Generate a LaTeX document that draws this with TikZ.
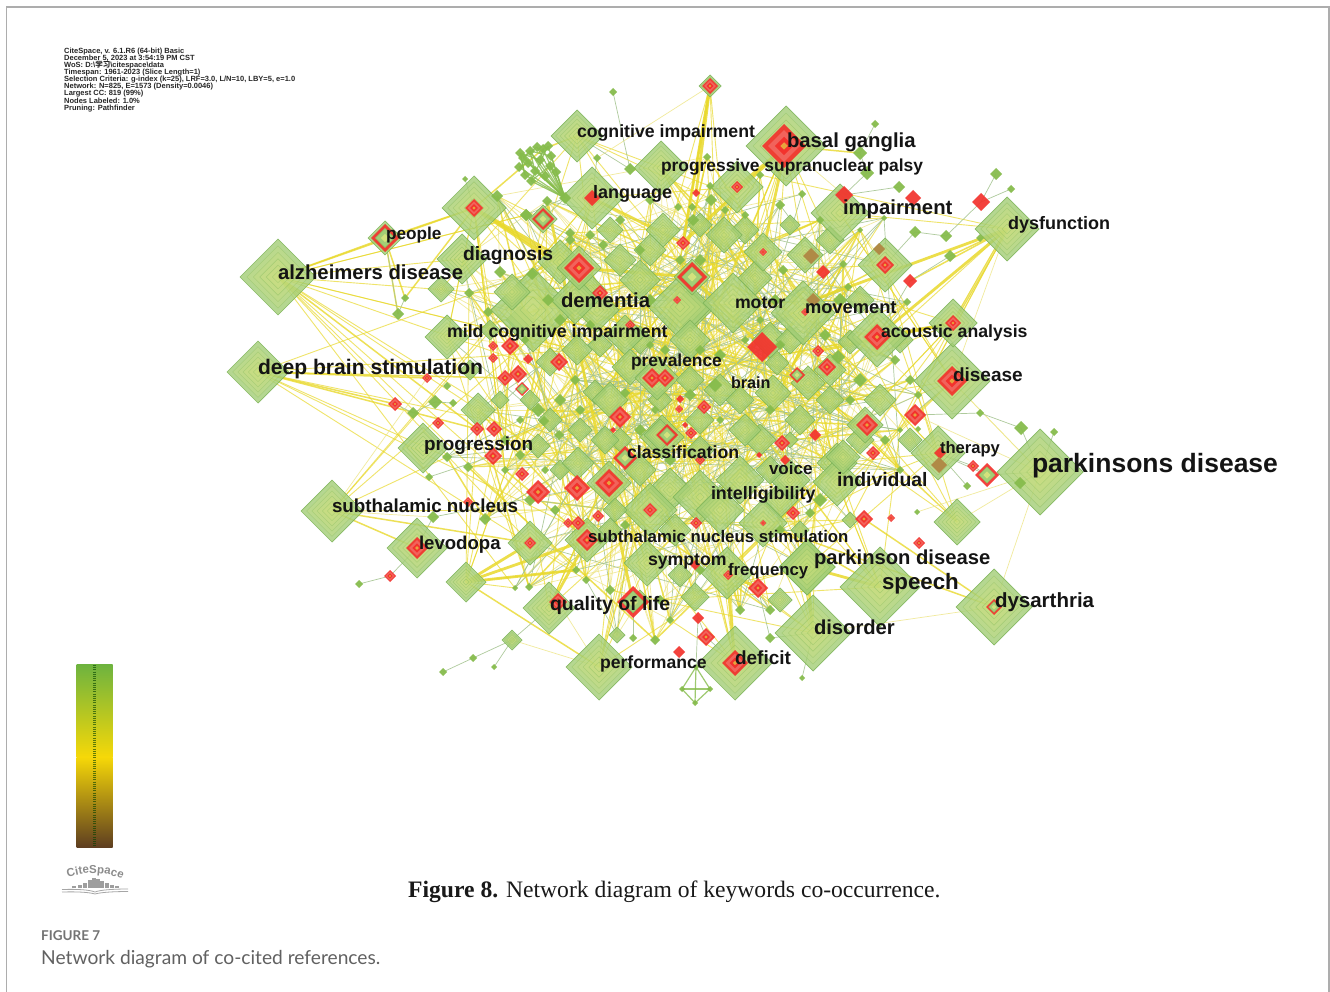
\documentclass[tikz,border=0pt]{standalone}
\usepackage{fontspec}
\usetikzlibrary{shapes.geometric,decorations.text}
\setmainfont{Liberation Sans}
\newfontfamily\serifc{Liberation Serif}
\newfontfamily\latof{Lato}
\newfontfamily\cjkf{Noto Sans CJK SC}
\setlength{\lineskiplimit}{-10pt}
\definecolor{gedge}{HTML}{7FB55A}
\definecolor{gfill}{HTML}{A3CE76}
\definecolor{gring}{HTML}{D3E27C}
\definecolor{gline}{HTML}{8CBF62}
\definecolor{gsmall}{HTML}{86BC4C}
\definecolor{rmain}{HTML}{F3322D}
\definecolor{rsoft}{HTML}{F2655E}
\definecolor{rcore}{HTML}{E8A23C}
\definecolor{brownn}{HTML}{B08A46}
\definecolor{yel}{HTML}{E9D92C}
\definecolor{ypale}{HTML}{EFE78C}
\definecolor{gthin}{HTML}{A6C592}
\definecolor{barg}{HTML}{6DB33F}
\definecolor{bary}{HTML}{F6D808}
\definecolor{barb}{HTML}{5E3E20}
\pgfdeclarelayer{edges}
\pgfdeclarelayer{labels}
\pgfsetlayers{edges,main,labels}
\tikzset{
 dia/.style={diamond,aspect=1,inner sep=0pt,outer sep=0pt,draw=gedge,line width=.7pt,fill=gfill,fill opacity=.8,draw opacity=.9},
 smalld/.style={diamond,aspect=1,inner sep=0pt,outer sep=0pt,draw=none,fill=gsmall,fill opacity=.94},
 redd/.style={diamond,aspect=1,inner sep=0pt,outer sep=0pt,draw=none,fill=rmain,fill opacity=.92},
 brownd/.style={diamond,aspect=1,inner sep=0pt,outer sep=0pt,draw=none,fill=brownn},
 ringp/.style={draw=gline,draw opacity=.55,line width=.4pt,fill=gring,fill opacity=.2},
 lbl/.style={inner sep=0pt,outer sep=0pt,anchor=base west,text=black!92,font=\bfseries},
 fat y/.style={draw=yel,line width=2.8pt,opacity=.85},
 thick y/.style={draw=yel,line width=1.5pt,opacity=.8},
 mid y/.style={draw=yel,line width=.9pt,opacity=.7},
 pale y/.style={draw=ypale,line width=.7pt,opacity=.85},
 thin g/.style={draw=gthin,line width=.7pt,opacity=.9},
 thick g/.style={draw=gsmall,line width=1.2pt,opacity=.8},
}
\newcommand\dring[4]{\path[#4] (#1+#3,#2)--(#1,#2-#3)--(#1-#3,#2)--(#1,#2+#3)--cycle;}
\newcommand\gn[4]{%
 \ifdim #4pt<8pt
  \node[smalld,minimum size=#4*2pt] (#1) at (#2,#3) {};
 \else
  \node[dia,minimum size=#4*2pt] (#1) at (#2,#3) {};
  \foreach \f in {.82,.65,.48,.31,.15}{\dring{#2}{#3}{#4*\f}{ringp}}
 \fi}
\newcommand\rn[4]{\node[redd,minimum size=#4*2pt] (#1) at (#2,#3) {};}
\newcommand\rr[4]{\node[redd,minimum size=#4*2pt] (#1) at (#2,#3) {};
 \dring{#2}{#3}{#4*.72}{fill=rsoft,fill opacity=.95}
 \dring{#2}{#3}{#4*.42}{fill=rmain}
 \dring{#2}{#3}{#4*.17}{fill=rcore}}
\newcommand\rg[4]{\node[redd,minimum size=#4*2pt] (#1) at (#2,#3) {};
 \dring{#2}{#3}{#4*.68}{fill=gfill,draw=gline,line width=.4pt}
 \dring{#2}{#3}{#4*.3}{fill=gring}}
\newcommand\bn[4]{\node[brownd,minimum size=#4*2pt] (#1) at (#2,#3) {};}
\newcommand\lab[5]{\node[lbl,font=\bfseries\fontsize{#4}{#4}\selectfont] (#1) at (#2,#3+#4*.33+1) {#5};}
\newcount\nc
\newcommand\corelistL{533/310/42,512/292/18,441/289/13,447/337/22,462/259/25,577/350/15,478/410/17,538/446/12,578/463/16,609/483/22,530/543/22,587/540/22,550/362/14,597/310/22,575/300/24,560/262/22,526/215/6,547/201/5,570/233/5,500/272/6,532/274/6,469/293/5,488/312/5,497/196/6,468/467/5,447/457/5,485/519/6,515/588/3,529/587/4,576/570/4,586/580/4,538/410/7,544/421/5,559/435/5,525/340/4,560/320/6,590/325/5,580/410/5,560/400/6,520/420/4,505/440/5,520/455/5,545/470/4,555/510/5,530/500/6,505/470/4,600/540/4,570/240/5,590/235/5,548/300/6,575/380/5,595/392/12}
\newcommand\corelistC{680/307/32,733/303/30,755/278/17,724/235/18,663/230/17,692/277/18,625/335/20,640/280/20,620/260/16,630/367/18,610/400/18,657/378/22,662/437/22,690/340/20,690/380/14,740/400/14,745/430/16,650/510/27,700/497/27,720/510/24,647/563/23,727/573/26,695/597/14,640/470/16,700/450/14,615/510/12,617/635/8,660/435/16,737/187/26,661/168/27,625/393/5,650/345/4,665/350/5,700/350/5,720/355/6,745/340/4,760/320/4,690/395/6,720/420/4,655/410/4,640/430/6,625/525/5,610/590/5,660/600/5,670/620/4,655/640/5,700/570/5,740/610/5,711/200/6,710/186/4,693/220/6,678/207/4,692/207/4,707/157/4,650/200/5,620/220/5,640/250/5,680/260/5,725/210/4,745/215/4,603/245/5,670/460/6,715/385/7,650/300/6,700/260/6,605/440/14,675/530/16}
\newcommand\corelistR{803/313/32,763/252/19,805/255/18,850/342/12,777/363/12,773/393/18,808/383/17,800/420/15,837/463/20,837/482/24,843/457/17,763/523/24,807/567/28,790/480/20,830/400/14,880/400/16,865/425/18,770/470/14,885/265/27,877/337/30,840/213/29,843/264/4,848/287/4,783/270/5,907/302/4,802/194/4,884/218/3,838/357/7,780/345/5,770/410/5,780/530/5,810/513/5,900/470/4,910/380/5,895/360/5,850/400/5,900/430/3,918/395/4,780/205/5,820/220/4,860/230/3,760/175/4,775/300/6,840/300/7,825/335/6,860/380/7,885/440/5,800/530/9,850/520/8,770/610/5,820/500/7,790/440/8}
\newcommand\corelistX{650/250/16,610/230/13,700/225/12,745/230/14,790/225/10,830/240/14,690/310/22,770/340/18,830/370/16,790/340/14,600/345/12,640/340/14,720/390/16,760/440/16,700/420/14,620/440/12,580/430/12,550/420/12,530/400/10,500/400/9,520/320/14,490/330/10,470/370/10,560/470/10,610/530/12,670/490/22,740/480/24,780/500/18,860/440/14,900/340/13,860/300/14,910/440/12,680/575/12,640/600/10,780/600/12,660/400/12,590/290/16}
\begin{document}
\begin{tikzpicture}[x=1pt,y=-1pt]
\useasboundingbox (0,0) rectangle (1330,992);
\begin{pgfonlayer}{edges}
\fill[white] (0,0) rectangle (1330,992);
\end{pgfonlayer}
\draw[black!32,line width=1.3pt] (6.5,992) -- (6.5,7) -- (1329,7) -- (1329,992);
% ---- big named hubs
\gn{alz}{278}{277}{38}
\gn{dbs}{258}{372}{31}
\gn{sub}{332}{511}{31}
\gn{park}{1040}{472}{43}
\gn{dys}{994}{607}{38}
\gn{dfn}{1007}{229}{32}
\gn{bas}{786}{146}{40}
\gn{cog}{577}{136}{26}
\gn{diag}{474}{208}{32}
\gn{lang}{592}{198}{31}
\gn{dis}{952}{381}{38}
\gn{aco}{953}{323}{24}
\gn{ther}{938}{453}{27}
\gn{lone}{957}{522}{23}
\gn{spe}{880}{587}{40}
\gn{dor}{813}{633}{38}
\gn{pkd}{807}{567}{28}
\gn{def}{735}{663}{37}
\gn{perf}{599}{667}{33}
\gn{qol}{549}{608}{26}
\gn{lev}{417}{548}{30}
\gn{pro}{423}{448}{25}
\gn{low}{466}{582}{20}
\gn{lsm}{512}{640}{10}
% ---- core nodes
\foreach \x/\y/\r in \corelistX {\global\advance\nc by 1 \gn{x\the\nc}{\x}{\y}{\r}}
\global\nc=0
\foreach \x/\y/\r in \corelistL {\global\advance\nc by 1 \gn{c\the\nc}{\x}{\y}{\r}}
\xdef\Nl{\the\nc}
\foreach \x/\y/\r in \corelistC {\global\advance\nc by 1 \gn{c\the\nc}{\x}{\y}{\r}}
\xdef\Nm{\the\nc}
\foreach \x/\y/\r in \corelistR {\global\advance\nc by 1 \gn{c\the\nc}{\x}{\y}{\r}}
\xdef\Nr{\the\nc}
% ---- outlying small green nodes
\gn{a1}{613}{92}{4}\gn{a2}{630}{169}{6}\gn{a3}{465}{179}{3}\gn{a4}{526}{215}{6}
\gn{a5}{597}{158}{4}\gn{a6}{405}{298}{4}\gn{a7}{398}{314}{6}\gn{a8}{875}{124}{4}
\gn{a9}{860}{153}{7}\gn{a10}{867}{173}{7}\gn{a11}{899}{187}{6}\gn{a12}{996}{174}{6}
\gn{a13}{1011}{189}{4}\gn{a14}{915}{232}{6}\gn{a15}{946}{236}{6}\gn{a16}{950}{256}{6}
\gn{a17}{980}{238}{4}\gn{a18}{980}{413}{4}\gn{a19}{1021}{428}{7}\gn{a20}{967}{486}{4}
\gn{a21}{918}{429}{3}\gn{a22}{917}{512}{3}\gn{a23}{802}{678}{3}\gn{a24}{770}{638}{5}
\gn{a25}{696}{667}{3}\gn{a26}{682}{689}{3}\gn{a27}{710}{689}{3}\gn{a28}{695}{703}{3}
\gn{a29}{633}{638}{4}\gn{a30}{473}{658}{4}\gn{a31}{443}{672}{4}\gn{a32}{494}{667}{3}
\gn{a33}{359}{584}{4}\gn{a34}{413}{413}{6}\gn{a35}{435}{402}{7}\gn{a36}{453}{403}{4}
\gn{a37}{447}{386}{4}\gn{a38}{429}{477}{4}\gn{a39}{433}{517}{6}\gn{a40}{1020}{483}{6}
\gn{a41}{1054}{432}{4}\gn{a42}{911}{416}{3}
% cluster beside cognitive impairment
\gn{k0}{565}{198}{6}
\foreach \x/\y [count=\i] in {537/147,530/151,543/149,523/158,551/156,519/167,528/163,540/160,550/166,556/172,525/175,535/171,545/176,531/181,520/153,548/146}{\gn{k\i}{\x}{\y}{5}}
% ---- red nodes
\gn{h1}{710}{86}{11}\rr{r1}{710}{86}{8}
\rr{r2}{784}{146}{22}
\rr{r3}{474}{208}{9}
\rn{r4}{592}{198}{8}
\gn{h2}{543}{219}{14}\rg{r5}{543}{219}{11}
\gn{h3}{385}{238}{17}\rg{r6}{385}{238}{14}
\gn{h4}{579}{268}{22}\rr{r7}{579}{268}{15}
\rr{r8}{600}{293}{8}\rr{r9}{677}{300}{4}\rr{r10}{630}{325}{5}
\rg{r11}{692}{277}{15}
\rr{r12}{683}{243}{7}\rr{r13}{737}{187}{6}
\rn{r14}{696}{193}{4}
\rn{r15}{844}{195}{9}\rn{r16}{913}{198}{8}\rn{r17}{981}{202}{9}
\rn{r18}{910}{281}{7}\rn{r19}{823}{272}{7}
\bn{b1}{811}{256}{8}\bn{b2}{879}{249}{6}\bn{b3}{813}{300}{7}\rr{r20}{805}{312}{4}
\rr{r21}{885}{265}{9}\rr{r22}{763}{252}{4}
\rn{r23}{762}{347}{15}
\rr{r24}{877}{337}{13}\rr{r25}{953}{323}{8}\rr{r26}{952}{381}{15}
\rr{r27}{818}{351}{6}\rr{r28}{827}{367}{9}\rg{r29}{797}{375}{8}
\rr{r30}{493}{346}{5}\rr{r31}{510}{346}{9}\rr{r32}{493}{358}{5}\rn{r33}{528}{359}{5}\rr{r34}{559}{362}{9}
\rr{r35}{505}{378}{8}\rr{r36}{518}{374}{9}\rg{r37}{522}{389}{7}\rr{r38}{427}{378}{5}
\rr{r39}{652}{378}{10}\rr{r40}{665}{378}{9}
\rr{r41}{395}{404}{7}\rr{r42}{438}{423}{6}\rr{r43}{477}{429}{7}\rr{r44}{494}{429}{8}
\rr{r45}{493}{456}{9}\rr{r46}{620}{417}{11}
\rn{r47}{680}{399}{4}\rr{r48}{679}{409}{4}\rr{r49}{704}{407}{7}\rn{r50}{685}{425}{3}\rn{r51}{613}{430}{3}
\rg{r52}{667}{435}{11}\rr{r53}{691}{433}{6}\rg{r54}{625}{458}{12}
\rr{r55}{700}{460}{5}\rn{r56}{759}{455}{3}\rr{r57}{782}{443}{8}\rn{r58}{785}{460}{5}\rn{r59}{815}{435}{6}
\rr{r60}{867}{425}{11}\rr{r61}{873}{453}{7}\rr{r62}{915}{415}{11}
\rr{r63}{522}{474}{7}\rr{r64}{538}{492}{12}\rr{r65}{577}{488}{13}\rr{r66}{609}{483}{14}
\rr{r67}{598}{516}{6}\rr{r68}{578}{523}{7}\rr{r69}{568}{523}{5}\rr{r70}{468}{502}{5}
\rr{r71}{530}{543}{6}\rr{r72}{587}{540}{11}\rr{r73}{417}{548}{11}\rr{r74}{390}{576}{6}
\rr{r75}{558}{602}{9}\rg{r76}{633}{602}{16}\rr{r77}{650}{510}{7}\rr{r78}{696}{523}{6}
\rr{r79}{793}{513}{7}\rr{r80}{864}{519}{9}\rr{r81}{919}{543}{6}\rr{r82}{758}{588}{10}
\rn{r83}{695}{565}{5}\rn{r84}{698}{618}{6}\rr{r85}{706}{637}{9}\rn{r86}{679}{652}{6}
\rr{r87}{735}{663}{13}\rg{r88}{994}{607}{8}
\rn{r89}{940}{453}{6}\bn{b4}{939}{465}{8}\rr{r90}{973}{466}{6}\rg{r91}{987}{475}{12}
\rr{r92}{891}{518}{4}\rr{r93}{728}{575}{5}\rr{r94}{763}{523}{3}
% ---- connectors
\begin{pgfonlayer}{edges}
\pgfmathsetseed{8}
\foreach \k in {1,...,280}{
 \pgfmathrandominteger{\pa}{1}{\Nr}\pgfmathrandominteger{\pb}{1}{\Nr}
 \draw[pale y] (c\pa.center) -- (c\pb.center);}
\foreach \k in {1,...,110}{
 \pgfmathrandominteger{\pa}{1}{\Nr}\pgfmathrandominteger{\pb}{1}{\Nr}
 \draw[mid y] (c\pa.center) -- (c\pb.center);}
\foreach \k in {1,...,80}{
 \pgfmathrandominteger{\pa}{1}{\Nr}\pgfmathrandominteger{\pb}{1}{\Nr}
 \draw[thick y] (c\pa.center) -- (c\pb.center);}
\foreach \k in {1,...,150}{
 \pgfmathrandominteger{\pa}{1}{\Nr}\pgfmathrandominteger{\pb}{1}{\Nr}
 \draw[thin g] (c\pa.center) -- (c\pb.center);}
% hub fans
\foreach \h/\lo/\hi/\n in {alz/1/\Nl/13,dbs/1/\Nl/6,sub/12/\Nl/5,diag/1/\Nl/9,lang/1/\Nm/9,cog/1/\Nm/7,bas/\Nl/\Nr/10,dis/\Nm/\Nr/8,aco/\Nm/\Nr/6,dfn/\Nm/\Nr/5,ther/\Nm/\Nr/7,lone/\Nm/\Nr/6,spe/\Nl/\Nr/8,dor/\Nl/\Nr/8,pkd/\Nl/\Nr/9,def/\Nl/\Nm/7,perf/\Nl/\Nm/7,qol/1/\Nm/6,low/1/\Nl/7,r1/\Nl/\Nm/3}{
 \foreach \k in {1,...,\n}{
  \pgfmathrandominteger{\pa}{\lo}{\hi}
  \draw[mid y] (\h.center) -- (c\pa.center);}}
\foreach \a/\b in {r1/r14,r1/r12,dfn/r24,dfn/r25,dfn/b3,aco/r24,aco/r27,diag/r7,diag/r8,diag/c16,low/r71,low/r72,low/c30,qol/r72,pkd/dor,c74/def,bas/r22,bas/r13,bas/r12,lang/r12,r7/r11,spe/pkd,c18/r76,c74/r82,r23/r11}{
 \draw[fat y] (\a.center) -- (\b.center);}
\foreach \a/\b in {alz/h3,alz/r3,alz/r43,dbs/r41,dbs/r35,dbs/r38,dbs/r43,r3/k3,k3/cog,h3/r3,h3/a6,h3/a7,a6/diag,r1/c110,low/perf,dfn/r18,dfn/a16,dys/r80,dys/c150,c150/spe,bas/a9,sub/r71,sub/lev}{
 \draw[thick y] (\a.center) -- (\b.center);}
\foreach \a/\b in {r1/a5,dfn/dis,dis/park,park/lone,park/dys,dys/dor,dfn/aco,park/r62,park/dis,park/a22,bas/r15,bas/r2,a17/dfn,perf/r75,perf/lsm,sub/a39,sub/r38}{
 \draw[pale y] (\a.center) -- (\b.center);}
\foreach \a/\b in {a1/a2,a2/cog,a8/a9,a9/a10,a10/r15,a12/r17,a13/r17,r17/a15,a15/a14,a14/r21,a16/r18,r18/r24,a11/r15,r62/a18,a18/a19,a19/park,ther/r91,ther/r90,r90/r91,r91/park,a20/ther,a33/r74,r74/lev,a31/a30,a30/lsm,a32/lsm,lsm/qol,a25/r84,r84/r85,r85/def,dor/a23,dor/a24,a24/r82,a29/r76,a6/a7,a7/h3,a34/a35,a35/a36,a38/r45,a39/c10,lev/a39,r41/a34,a3/diag,lang/a5,r5/a4,r5/k0,a40/park,a41/park,a42/dis,k0/a4}{
 \draw[thin g] (\a.center) -- (\b.center);}
\foreach \a/\b in {a26/a27,a26/a25,a27/a25,a26/a28,a27/a28,a25/a28}{
 \draw[thick g] (\a.center) -- (\b.center);}
\foreach \i in {1,...,16}{\draw[thick g] (k\i.center) -- (k0.center);
 \pgfmathrandominteger{\pa}{1}{16}\draw[thick g] (k\i.center) -- (k\pa.center);}
\end{pgfonlayer}
% ---- labels
\begin{pgfonlayer}{labels}
\lab{t1}{1032}{463}{26.5}{parkinsons disease}
\lab{t2}{278}{272}{20.3}{alzheimers disease}
\lab{t3}{258}{367}{21.1}{deep brain stimulation}
\lab{t4}{561}{300}{20.3}{dementia}
\lab{t5}{787}{140}{20.3}{basal ganglia}
\lab{t6}{577}{131}{17.7}{cognitive impairment}
\lab{t7}{661}{165}{17.4}{progressive supranuclear palsy}
\lab{t8}{593}{192}{18}{language}
\lab{t9}{843}{207}{20.3}{impairment}
\lab{t10}{1008}{223}{18}{dysfunction}
\lab{t11}{386}{233}{17.2}{people}
\lab{t12}{463}{253}{19.3}{diagnosis}
\lab{t13}{735}{302}{17.7}{motor}
\lab{t14}{805}{306}{18.3}{movement}
\lab{t15}{447}{331}{17.8}{mild cognitive impairment}
\lab{t16}{881}{331}{17.7}{acoustic analysis}
\lab{t17}{631}{360}{17.4}{prevalence}
\lab{t18}{731}{382}{16.2}{brain}
\lab{t19}{953}{374}{19}{disease}
\lab{t20}{424}{443}{18.9}{progression}
\lab{t21}{627}{452}{17.7}{classification}
\lab{t22}{940}{447}{16.6}{therapy}
\lab{t23}{769}{468}{17}{voice}
\lab{t24}{837}{479}{19.4}{individual}
\lab{t25}{711}{493}{17.9}{intelligibility}
\lab{t26}{332}{505}{18.8}{subthalamic nucleus}
\lab{t27}{419}{542}{18.6}{levodopa}
\lab{t28}{588}{536}{16.8}{subthalamic nucleus stimulation}
\lab{t29}{648}{559}{17.7}{symptom}
\lab{t30}{728}{569}{16.8}{frequency}
\lab{t31}{814}{557}{20.2}{parkinson disease}
\lab{t32}{882}{581}{22.3}{speech}
\lab{t33}{550}{603}{19.5}{quality of life}
\lab{t34}{995}{600}{20.5}{dysarthria}
\lab{t35}{814}{627}{20.2}{disorder}
\lab{t36}{600}{662}{17.6}{performance}
\lab{t37}{735}{657}{19}{deficit}
\end{pgfonlayer}
% ---- info block
\node[inner sep=0pt,anchor=north west,align=left,text=black!85,font=\bfseries\fontsize{7.5}{7.1}\selectfont] (info) at (64,47.7) {CiteSpace, v. 6.1.R6 (64-bit) Basic\\December 5, 2023 at 3:54:19 PM CST\\WoS: D:\textbackslash{\cjkf 学习}\textbackslash citespace\textbackslash data\\Timespan: 1961-2023 (Slice Length=1)\\Selection Criteria: g-index (k=25), LRF=3.0, L/N=10, LBY=5, e=1.0\\Network: N=825, E=1573 (Density=0.0046)\\Largest CC: 819 (99\%)\\Nodes Labeled: 1.0\%\\Pruning: Pathfinder};
% ---- colour bar
\shade[top color=barg,bottom color=bary] (76.5,664) rectangle (112.5,757);
\shade[top color=bary,bottom color=barb] (76.5,757) rectangle (112.5,847);
\draw[black!75!green,opacity=.6,line width=3pt,dash pattern=on 1pt off 1.2pt] (94.5,665) -- (94.5,846);
% ---- logo
\path[decorate,decoration={text along path,text align=center,text={|\bfseries\fontsize{11.5}{11.5}\selectfont\color{black!45}|CiteSpace}}] (64,879) .. controls (82,871) and (108,871) .. (126,881);
\foreach \x/\h in {74/2.5,80/3.5,85/5,90/8,94/10,98/9,102/7,107/5,112/3.5,117/2.5}{
 \fill[black!38] (\x-2.3,888) rectangle (\x+2.3,888-\h);}
\draw[black!35,line width=.8pt] (62,889.5) .. controls (80,889) and (90,890) .. (95,892) .. controls (100,890) and (112,889) .. (128,889);
\draw[black!35,line width=.8pt] (62,892) .. controls (80,891.5) and (90,892.5) .. (95,894) .. controls (100,892.5) and (112,891.5) .. (128,891.5);
% ---- captions
\node[inner sep=0pt,anchor=base west,font=\serifc\fontsize{23.6}{23.6}\selectfont,text=black!90] (cap8) at (408,897) {\textbf{Figure 8.} Network diagram of keywords co-occurrence.};
\node[inner sep=0pt,anchor=base west,font=\latof\bfseries\fontsize{13.5}{13.5}\selectfont,text=black!55] (fig7) at (41,940) {FIGURE 7};
\node[inner sep=0pt,anchor=base west,font=\latof\fontsize{19.2}{19.2}\selectfont,text=black!62] (cap7) at (41,964) {Network diagram of co-cited references.};
\end{tikzpicture}
\end{document}
